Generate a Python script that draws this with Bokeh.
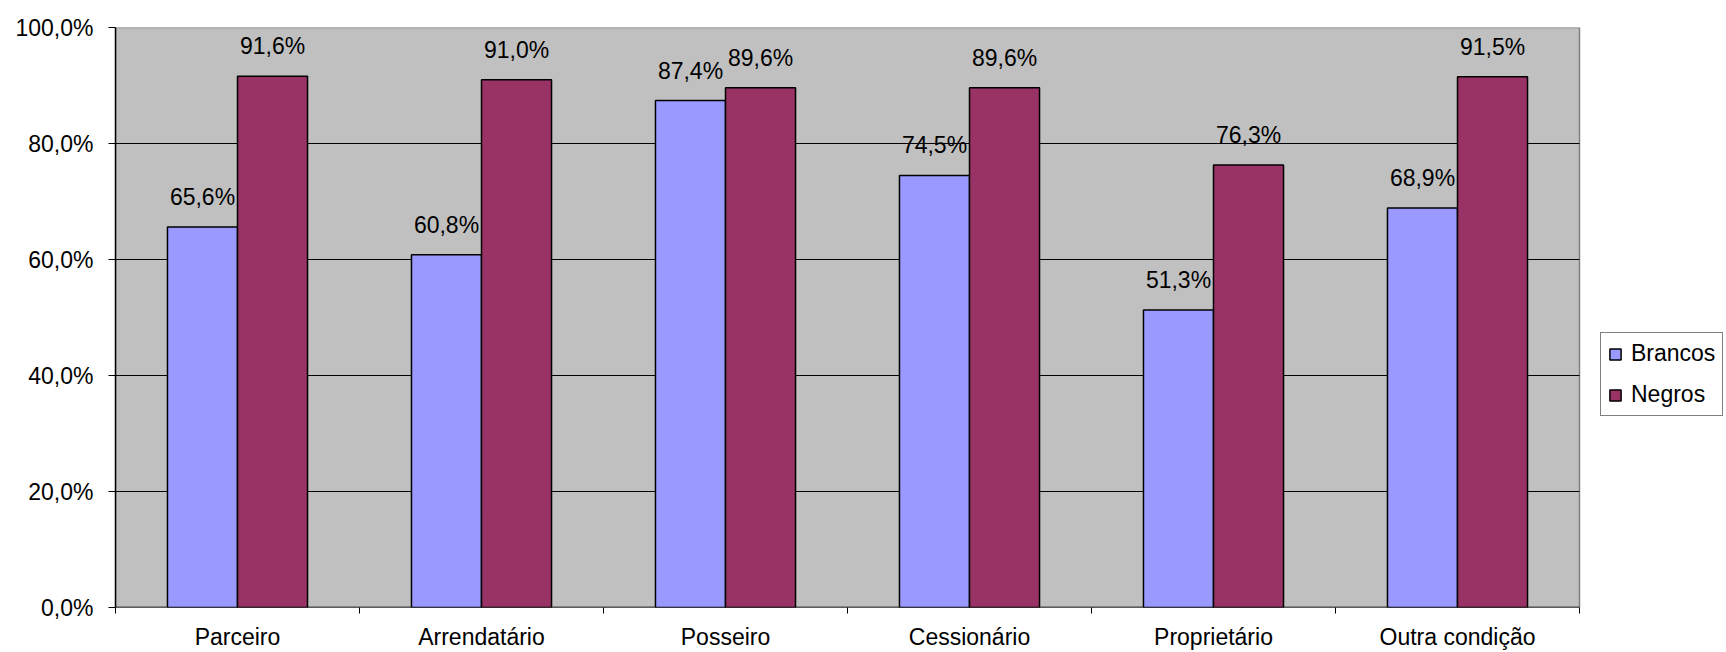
from bokeh.plotting import figure
from bokeh.models import (ColumnDataSource, Range1d, FixedTicker, LinearAxis,
                          Legend, LegendItem, LabelSet)
from bokeh.core.properties import value
from bokeh.embed import file_html
from bokeh.resources import INLINE

categories = ["Parceiro", "Arrendatário", "Posseiro", "Cessionário", "Proprietário", "Outra condição"]
brancos = [65.6, 60.8, 87.4, 74.5, 51.3, 68.9]
negros = [91.6, 91.0, 89.6, 89.6, 76.3, 91.5]
y_ticks = [0, 20, 40, 60, 80, 100]

FONT = "Liberation Sans"
FS = "23px"
BAR_W = 0.287

W, H = 1726, 652
LEFT, TOP, BOTTOM = 115, 27, 45
PLOT_W = 1464  # pixel width of the grey plot area

def fmt(v):
    return f"{v:.1f}".replace(".", ",") + "%"

n = len(categories)
idx = list(range(n))
src_b = ColumnDataSource(dict(x=[i + 0.5 - BAR_W / 2 for i in idx], top=brancos,
                              lab=[fmt(v) for v in brancos]))
src_n = ColumnDataSource(dict(x=[i + 0.5 + BAR_W / 2 for i in idx], top=negros,
                              lab=[fmt(v) for v in negros]))

x_end = n * (W - LEFT) / PLOT_W
p = figure(width=W, height=H, output_backend="svg", toolbar_location=None,
           x_range=Range1d(0, x_end), y_range=Range1d(0, y_ticks[-1]),
           min_border_left=LEFT, min_border_right=0, min_border_top=TOP,
           min_border_bottom=BOTTOM, x_axis_type=None, y_axis_type=None)
p.background_fill_color = "white"
p.border_fill_color = "white"
p.outline_line_color = None
p.xgrid.visible = False
p.ygrid.visible = False

# grey plot area
p.quad(left=[0], right=[n], bottom=[y_ticks[0]], top=[y_ticks[-1]],
       fill_color="#C0C0C0", line_color="#808080", line_width=1.5)
# horizontal gridlines
p.segment(x0=[0] * (len(y_ticks) - 2), x1=[n] * (len(y_ticks) - 2),
          y0=y_ticks[1:-1], y1=y_ticks[1:-1], line_color="black", line_width=1)
# x axis line
p.segment(x0=[0], x1=[n], y0=[0], y1=[0], line_color="black", line_width=1.5)

rb = p.vbar(x="x", top="top", width=BAR_W, bottom=0, source=src_b,
            fill_color="#9999FF", line_color="black", line_width=1.5)
rn = p.vbar(x="x", top="top", width=BAR_W, bottom=0, source=src_n,
            fill_color="#993366", line_color="black", line_width=1.5)

# y axis
yax = LinearAxis(ticker=FixedTicker(ticks=y_ticks, minor_ticks=[]),
                 major_label_overrides={t: fmt(t) for t in y_ticks})
yax.major_tick_out = 7
yax.major_tick_in = 0
yax.minor_tick_out = 0
yax.minor_tick_in = 0
yax.major_label_standoff = 15
yax.major_label_text_font = FONT
yax.major_label_text_font_size = FS
yax.major_label_text_color = "black"
yax.axis_line_color = "black"
yax.axis_line_width = 1.5
yax.major_tick_line_color = "black"
p.add_layout(yax, "left")

# x axis: labels at category centres, ticks at boundaries (minor)
centers = [i + 0.5 for i in idx]
xax = LinearAxis(ticker=FixedTicker(ticks=centers, minor_ticks=[float(i) for i in range(n + 1)]),
                 major_label_overrides={c: categories[i] for i, c in enumerate(centers)})
xax.major_tick_out = 0
xax.major_tick_in = 0
xax.minor_tick_out = 6
xax.minor_tick_in = 0
xax.minor_tick_line_color = "black"
xax.major_label_standoff = 10
xax.major_label_text_font = FONT
xax.major_label_text_font_size = FS
xax.major_label_text_color = "black"
xax.axis_line_color = None
p.add_layout(xax, "below")

for s in (src_b, src_n):
    lbl = LabelSet(x="x", y="top", text="lab", source=s, text_align="center",
                   text_baseline="alphabetic", y_offset=22, text_font=value(FONT),
                   text_font_size=value(FS), text_color="black")
    p.add_layout(lbl)

legend = Legend(items=[LegendItem(label="Brancos", renderers=[rb]),
                       LegendItem(label="Negros", renderers=[rn])],
                location=(1485, 191), margin=0)
legend.label_text_font = FONT
legend.label_text_font_size = FS
legend.label_text_color = "black"
legend.glyph_width = 14
legend.glyph_height = 14
legend.label_height = 23
legend.spacing = 14
legend.padding = 7
legend.label_standoff = 9
legend.border_line_color = "black"
legend.border_line_width = 1
legend.background_fill_color = "white"
legend.background_fill_alpha = 1
p.add_layout(legend, "center")

open("out.html", "w").write(file_html(p, INLINE))
